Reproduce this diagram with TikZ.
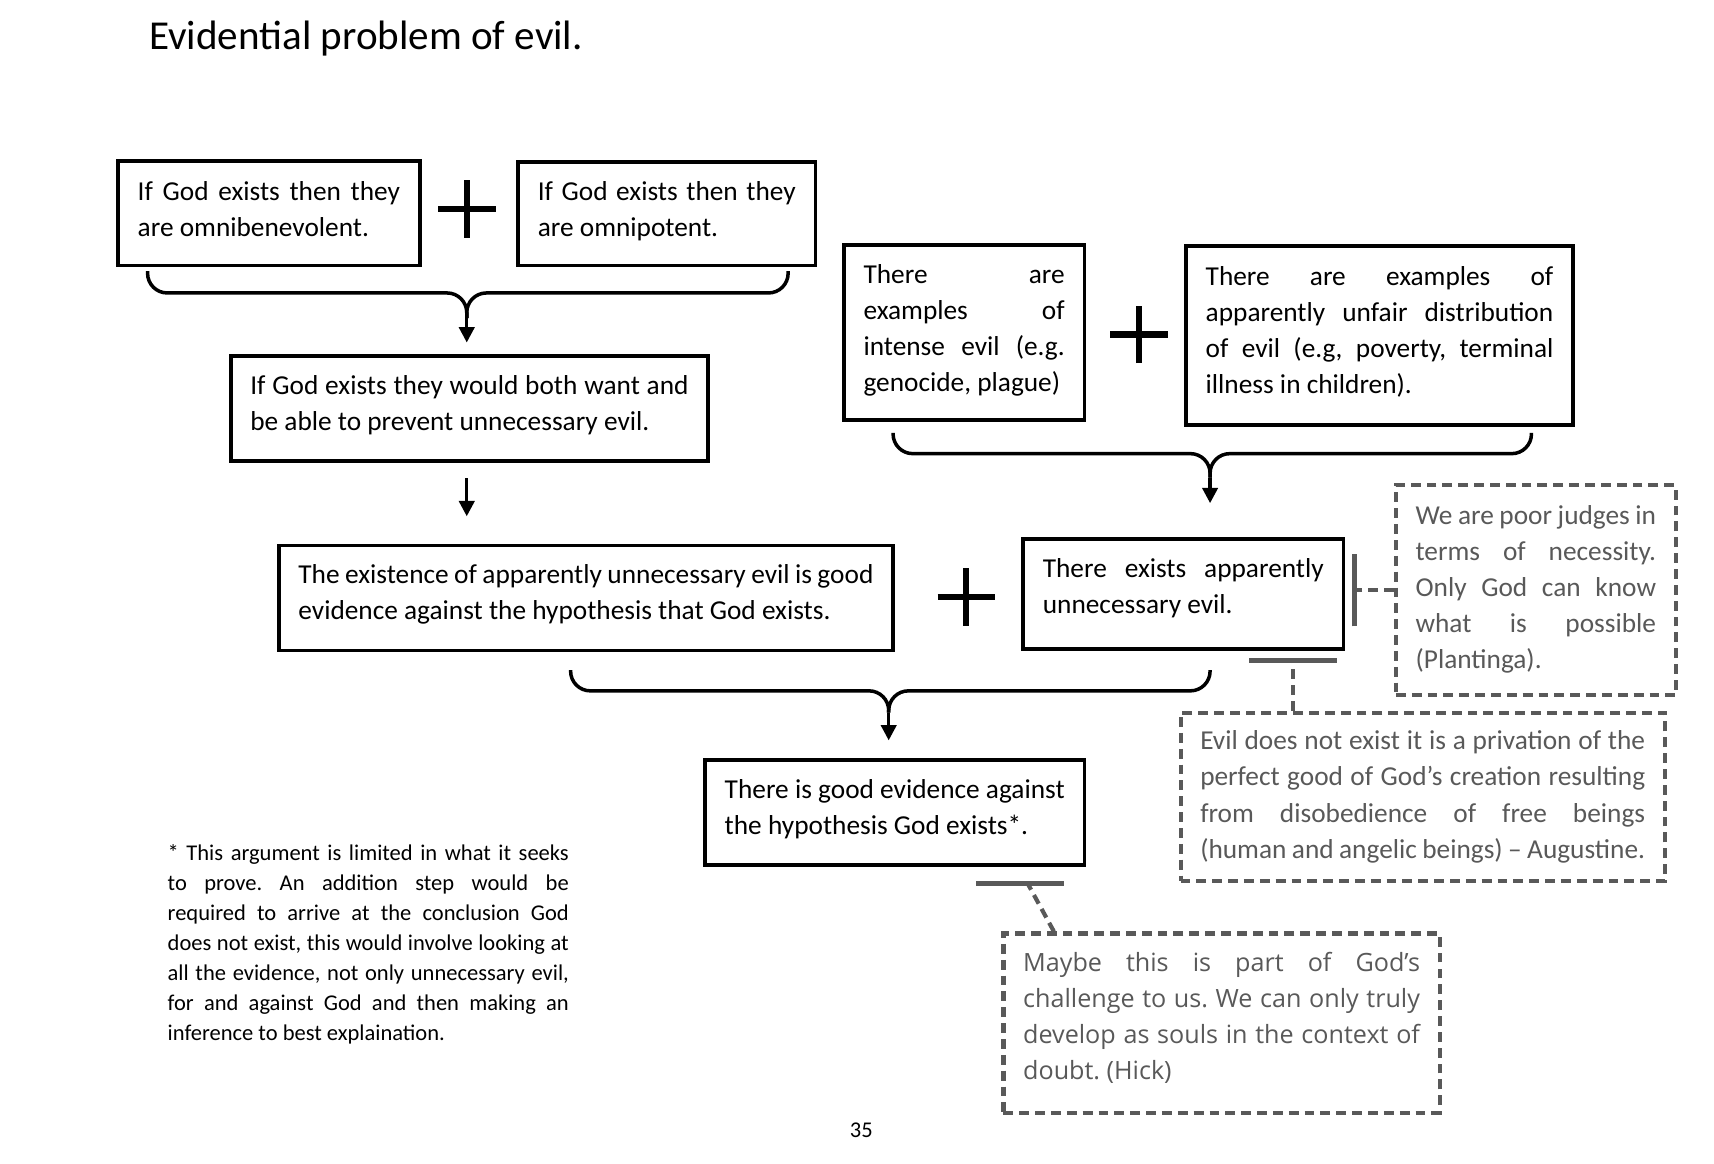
\documentclass[tikz,border=0pt]{standalone}
\usepackage{fontspec}
\setmainfont{Carlito}
\newfontfamily\hickfont{Open Sans}
\usetikzlibrary{positioning, arrows.meta, calc, shapes.misc}

\definecolor{rebuttal}{HTML}{595959}
\newcommand{\premisefont}{\fontsize{12.5}{16.5}\selectfont}
\newcommand{\notefont}{\fontsize{10.3}{13.75}\selectfont}
\hyphenpenalty=10000
\exhyphenpenalty=10000
\frenchspacing

\tikzset{
  premise/.style={draw, line width=1.7pt, inner xsep=9pt, inner ysep=0pt, align=justify, font=\premisefont},
  reply/.style={draw=rebuttal, text=rebuttal, line width=1.9pt, dash pattern=on 4.5pt off 2.75pt, inner xsep=9pt, inner ysep=0pt, align=justify, font=\premisefont},
  lift/.style={execute at end node={\par\vspace*{#1}}},
  plussign/.style={cross out, draw, line width=2.9pt, rotate=45, minimum size=18.6pt, inner sep=0pt, outer sep=0pt},
  brace/.style={line width=1.6pt, rounded corners=9pt},
  stem/.style={line width=1.5pt, -{Triangle[length=7pt, width=7pt]}},
  rebutline/.style={rebuttal, line width=1.9pt, dash pattern=on 4.5pt off 2.75pt},
  objection/.style={rebutline, -{Bar[width=#1, line width=2.4pt]}, shorten >=3pt},
  objection/.default=33pt,
  barline/.style={rebuttal, line width=2.4pt},
}

\begin{document}
\begin{tikzpicture}[x=0.5pt, y=-0.5pt]
\path[use as bounding box, fill=white] (0,0) rectangle (1568,1064);

% Title
\node[anchor=base west, inner sep=0pt, font=\fontsize{18.8}{22}\selectfont] (title) at (136,45) {Evidential problem of evil.};

% God's attributes
\node[premise, lift=4pt, text width=120pt, minimum height=48pt] (benevolent) at (246,195) {If God exists then they\linebreak are omnibenevolent.};
\node[plussign] (plusA) at (427,191) {};
\node[premise, lift=2.5pt, text width=118pt, minimum height=47.5pt] (potent) at (610,195.5) {If God exists then they\linebreak are omnipotent.};
\node[premise, lift=3.3pt, text width=200.5pt, minimum height=48pt] (prevent) at (429.5,374) {If God exists they would both want and\linebreak be able to prevent unnecessary evil.};

% Examples of evil
\node[premise, lift=1.7pt, text width=92pt, minimum height=80pt] (intense) at (882,304) {There are\linebreak examples of\linebreak intense evil (e.g.\linebreak genocide, plague)};
\node[plussign] (plusB) at (1042,306) {};
\node[premise, lift=3.5pt, text width=159pt, minimum height=82pt] (unfair) at (1262,307) {There are examples of\linebreak apparently unfair distribution\linebreak of evil (e.g, poverty, terminal\linebreak illness in children).};

% Middle row
\node[premise, lift=3.3pt, text width=263pt, minimum height=48pt] (evidence) at (536,547) {The existence of apparently unnecessary evil is good\linebreak evidence against the hypothesis that God exists.};
\node[plussign] (plusC) at (884,546) {};
\node[premise, lift=5.3pt, text width=128.5pt, minimum height=50.5pt] (exists) at (1082.5,543.5) {There exists apparently\linebreak unnecessary evil.};

% Conclusion
\node[premise, lift=2.4pt, text width=155.5pt, minimum height=48pt] (conclusion) at (818.5,743) {There is good evidence against\linebreak the hypothesis God exists*.};

% Replies
\node[reply, lift=1pt, text width=110pt, minimum height=96pt] (plantinga) at (1405,540) {We are poor judges in\linebreak terms of necessity.\linebreak Only God can know\linebreak what is possible\linebreak (Plantinga).};
\node[reply, text width=203.5pt, minimum height=77pt] (augustine) at (1301.5,729) {Evil does not exist it is a privation of the\linebreak perfect good of God’s creation resulting\linebreak from disobedience of free beings\linebreak (human and angelic beings) – Augustine.};
\node[reply, lift=5pt, text width=181.5pt, minimum height=82pt, font=\hickfont\fontsize{11.5}{16.5}\selectfont] (hick) at (1117.5,936) {Maybe this is part of God’s\linebreak challenge to us. We can only truly\linebreak develop as souls in the context of\linebreak doubt. (Hick)};

% Footnote and page number
\node[anchor=north west, text width=183.5pt, inner sep=0pt, align=justify, font=\notefont] (footnote) at (153,772) {* This argument is limited in what it seeks\linebreak to prove. An addition step would be\linebreak required to arrive at the conclusion God\linebreak does not exist, this would involve looking at\linebreak all the evidence, not only unnecessary evil,\linebreak for and against God and then making an\linebreak inference to best explaination.};
\node[anchor=base, inner sep=0pt, font=\notefont] (page) at (788,1041) {35};

% Braces
\coordinate (b1l) at (135,248);
\coordinate (b1r) at (721,248);
\coordinate (b1m) at (427,268);
\coordinate (b1c) at (427,291);
\draw[brace] (b1l) |- (b1m) -- (b1c);
\draw[brace] (b1r) |- (b1m) -- (b1c);
\draw[stem, shorten >=5.5pt] (b1c) -- (b1c |- prevent.north);
\draw[stem, shorten <=7pt, shorten >=12.5pt] (prevent.south -| b1c) -- (b1c |- evidence.north);

\coordinate (b2l) at (817,396);
\coordinate (b2r) at (1401,396);
\coordinate (b2m) at (1107,415);
\coordinate (b2c) at (1107,437);
\draw[brace] (b2l) |- (b2m) -- (b2c);
\draw[brace] (b2r) |- (b2m) -- (b2c);
\draw[stem, shorten >=15.5pt] (b2c) -- (b2c |- exists.north);

\coordinate (b3l) at (522,613);
\coordinate (b3r) at (1107,613);
\coordinate (b3m) at (813,632);
\coordinate (b3c) at (813,652);
\draw[brace] (b3l) |- (b3m) -- (b3c);
\draw[brace] (b3r) |- (b3m) -- (b3c);
\draw[stem, shorten >=8pt] (b3c) -- (b3c |- conclusion.north);

% Objections
\draw[objection] (plantinga.west) -- (plantinga.west -| exists.east);
\coordinate (augx) at (1183,650);
\draw[objection=40pt] (augx |- augustine.north) -- (augx |- exists.south);
\coordinate (hickbar) at (940,808);
\draw[rebutline] ($(hick.north west)+(48,0)$) -- (hickbar);
\draw[barline] ($(hickbar)+(-47,0)$) -- ($(hickbar)+(33,0)$);
\end{tikzpicture}
\end{document}
